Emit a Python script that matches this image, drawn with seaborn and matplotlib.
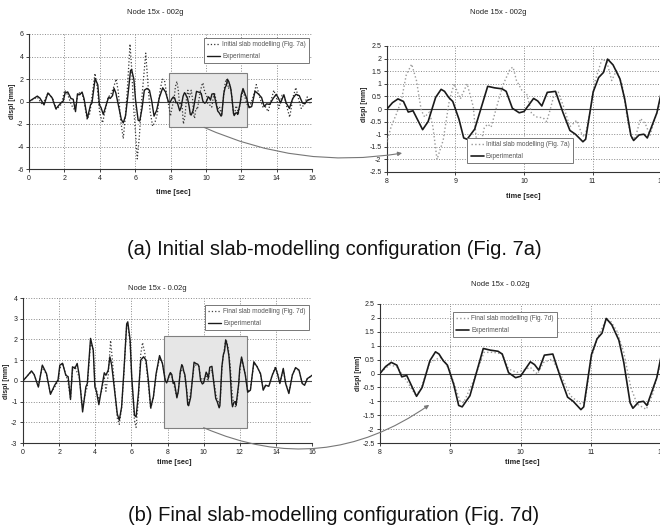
import matplotlib
matplotlib.use("Agg")
import pandas as pd
import matplotlib.pyplot as plt
import seaborn as sns
from matplotlib.patches import Rectangle, ConnectionPatch
from matplotlib.ticker import FuncFormatter, MultipleLocator

# experimental record (node 15x, 0.02g)
exp_t = [0.0, 0.25, 0.47, 0.62, 0.85, 1.07, 1.3, 1.52, 1.76, 1.94, 2.04, 2.19, 2.37, 2.5, 2.63, 2.74, 2.87, 3.0,
         3.11, 3.3, 3.48, 3.56, 3.74, 3.89, 3.98, 4.07, 4.2, 4.35, 4.5, 4.59, 4.72, 4.81, 4.91, 5.09, 5.22, 5.33,
         5.46, 5.59, 5.74, 5.8, 5.93, 6.02, 6.17, 6.26, 6.39, 6.52, 6.67, 6.81, 6.94, 7.07, 7.22, 7.37, 7.56, 7.72,
         7.87, 7.95,
         8.0, 8.08, 8.16, 8.24, 8.31, 8.38, 8.52, 8.6, 8.71, 8.79, 8.84, 8.9, 8.96, 9.05, 9.12, 9.17, 9.28, 9.38,
         9.47, 9.57, 9.68, 9.74, 9.83, 9.93, 10.0, 10.14, 10.2, 10.26, 10.34, 10.46, 10.57, 10.67, 10.75, 10.86,
         10.9, 11.01, 11.09, 11.16, 11.22, 11.3, 11.4, 11.47, 11.56, 11.6, 11.68, 11.75, 11.8, 11.87, 11.94, 12.0,
         12.1, 12.31, 12.44, 12.59, 12.78, 12.96, 13.15, 13.3, 13.43, 13.61, 13.8, 13.98, 14.11, 14.22, 14.41,
         14.54, 14.72, 14.91, 15.09, 15.28, 15.46, 15.59, 15.74, 15.89, 16.0]
exp_y = [0.0, 0.25, 0.48, 0.3, -0.3, 0.76, 0.35, -0.65, -0.2, 0.05, 0.76, 0.85, 0.27, 0.2, -0.9, 0.68, 0.6, 0.84,
         0.27, -1.5, -0.29, -0.13, 2.05, 1.48, -0.29, -0.53, -1.15, -0.37, 0.39, 0.27, 0.52, 1.16, 0.76, -0.61, -1.6,
         -1.9, -1.26, 0.52, 2.75, 2.85, 1.97, 0.19, -1.66, -1.74, -0.61, 1.0, 1.16, 1.0, 0.03, -1.3, -0.77, 0.35,
         1.22, 0.84, 0.03, -0.1,
         0.0, 0.25, 0.4, 0.3, -0.12, -0.07, -0.82, -0.5, 0.46, 0.78, 0.7, 0.46, 0.3, -0.4, -1.15, -1.2, -0.8, 0.1,
         0.9, 0.84, 0.8, 0.7, 0.03, -0.15, -0.1, 0.42, 0.32, 0.12, 0.66, 0.7, -0.15, -0.85, -1.0, -1.3,
         -1.2, 0.68, 1.25, 1.45, 1.98, 1.75, 1.2, 0.4, -1.05, -1.25, -1.03, -1.0, -1.15, -0.65, -0.15, 0.6,
         1.15, 0.27, -0.55, -0.45, 0.92, 0.68, 0.35, -0.45, -0.21, -0.26, 0.27, 0.64, 0.27, -0.13, 0.6,
         -0.13, -0.61, 0.27, 0.64, 0.52, -0.13, -0.21, 0.11, 0.19, 0.27]

# initial slab modelling (Fig. 7a)
init_t = [0.0, 0.47, 0.76, 1.08, 1.36, 1.55, 1.83, 2.02, 2.2, 2.4, 2.59, 2.78, 2.97, 3.1, 3.29, 3.44, 3.73, 3.86,
          4.0, 4.16, 4.35, 4.48, 4.61, 4.76, 4.93, 5.05, 5.18, 5.33, 5.48, 5.58, 5.71, 5.8, 5.9, 6.05, 6.12, 6.24,
          6.37, 6.5, 6.6, 6.71, 6.84, 6.99, 7.13, 7.26, 7.41, 7.54, 7.66, 7.79, 7.88,
          8.0, 8.06, 8.14, 8.21, 8.28, 8.36, 8.43, 8.5, 8.55, 8.62, 8.67, 8.73, 8.82, 8.91, 8.98, 9.07, 9.17, 9.26,
          9.3, 9.36, 9.42, 9.47, 9.52, 9.6, 9.7, 9.8, 9.84, 9.89, 9.97, 10.04, 10.11, 10.19, 10.28, 10.33, 10.38,
          10.43, 10.5, 10.58, 10.67, 10.77, 10.85, 10.89, 10.97, 11.04, 11.14, 11.21, 11.28, 11.35, 11.43, 11.52,
          11.58, 11.63, 11.7, 11.77, 11.84, 11.92, 12.0,
          12.1, 12.33, 12.48, 12.7, 12.85, 13.04, 13.23, 13.37, 13.52, 13.69, 13.84, 14.0, 14.12, 14.31, 14.44,
          14.6, 14.74, 14.93, 15.09, 15.26, 15.39, 15.58, 15.73, 15.88, 16.0]
init_y = [0.0, 0.4, -0.3, 0.77, 0.2, -0.7, -0.24, 1.0, 0.56, -0.32, -0.77, 0.7, 0.85, 0.12, -1.6, -1.06, 2.5, 1.24,
          -1.06, -1.9, -0.47, 0.41, 0.56, 1.15, 2.0, 0.86, -1.65, -3.3, -0.77, 1.6, 5.1, 3.07, -0.18, -3.4, -5.1, -3.1,
          0.12, 2.48, 4.3, 1.89, -0.77, -2.2, -1.8, -1.06, 1.0, 1.98, 1.89, 0.56, -0.18,
          -1.3, -0.7, -0.18, 0.34, 1.34, 1.78, 1.13, -0.05, -0.32, -0.12, -0.7, -2.0, -1.24, 0.34, 1.0, 0.4, 1.0, 0.08,
          -1.1, -1.5, -0.75, -0.6, -0.72, 0.08, 1.0, 1.6, 1.66, 1.13, 0.74, 0.6, -0.18, -0.32, -0.35, -0.5, -0.05,
          0.47, 0.67, 0.08, -0.7, -0.45, -1.04, -1.1, -0.05, 1.13, 2.0, 1.86, 1.13, 1.53, 1.0, -0.58,
          -1.2, -1.1, -0.38, -0.58, -1.04, -0.32, 0.34,
          0.94, -0.24, -0.47, 0.56, 1.5, 0.41, -0.53, -0.47, -0.9, 0.12, 1.0, 0.27, -0.62, 0.56, 0.41,
          -0.62, -1.4, 0.41, 1.24, 0.12, -0.62, -0.18, 0.41, -0.12, -0.18]

# final slab modelling (Fig. 7d)
final_t = [0.0, 0.25, 0.47, 0.62, 0.85, 1.07, 1.3, 1.52, 1.76, 1.94, 2.04, 2.19, 2.37, 2.5, 2.63, 2.74, 2.87, 3.0,
           3.11, 3.3, 3.48, 3.56, 3.74, 3.89, 3.98, 4.07, 4.2, 4.35, 4.5, 4.59, 4.72, 4.85, 4.95, 5.09, 5.22, 5.33,
           5.46, 5.59, 5.74, 5.8, 5.93, 6.02, 6.17, 6.26, 6.39, 6.52, 6.62, 6.75, 6.94, 7.07, 7.22, 7.37, 7.56, 7.72,
           7.87, 7.95,
           8.0, 8.14, 8.24, 8.38, 8.5, 8.57, 8.71, 8.86, 8.93, 9.0, 9.14, 9.19, 9.33, 9.48, 9.62, 9.74, 9.83, 9.95,
           10.02, 10.14, 10.24, 10.33, 10.45, 10.57, 10.71, 10.86, 10.92, 11.01, 11.1, 11.2, 11.27, 11.37, 11.47,
           11.57, 11.66, 11.79, 11.88, 11.98, 12.0,
           12.1, 12.31, 12.44, 12.59, 12.78, 12.96, 13.15, 13.3, 13.43, 13.61, 13.8, 13.98, 14.11, 14.22, 14.41,
           14.54, 14.72, 14.91, 15.09, 15.28, 15.46, 15.59, 15.74, 15.89, 16.0]
final_y = [0.0, 0.25, 0.45, 0.3, -0.28, 0.7, 0.3, -0.6, -0.3, 0.0, 0.6, 0.85, 0.3, -0.1, -0.85, 0.5, 0.7, 0.4,
           0.2, -1.3, -0.5, -0.3, 1.85, 1.5, -0.1, -0.45, -0.9, -0.5, 0.2, -0.5, 0.3, 1.95, 1.0, -0.5, -1.8, -2.1,
           -1.3, 0.4, 2.7, 2.75, 1.8, 0.1, -1.9, -2.25, -0.9, 1.3, 1.85, 1.3, -0.2, -1.35, -0.8, 0.3, 1.1, 0.85,
           0.1, 0.0,
           0.03, 0.31, 0.24, -0.27, -0.75, -0.63, 0.4, 0.58, 0.4, 0.04, -1.0, -1.05, -0.27, 0.76, 0.76, 0.7, 0.16, 0.04,
           0.1, 0.22, -0.02, 0.4, 0.52, -0.02, -0.8, -1.1, -1.0, 0.58, 1.3, 1.84, 1.93, 1.54, 0.76,
           -0.5, -1.1, -1.29, -0.75, 0.22, 0.4,
           1.1, 0.3, -0.5, -0.4, 0.85, 0.7, 0.3, -0.4, -0.25, -0.25, 0.3, 0.7, 0.3, -0.1, 0.55,
           -0.1, -0.6, 0.3, 0.6, 0.5, -0.1, -0.2, 0.1, 0.2, 0.25]

exp_df = pd.DataFrame({'time': exp_t, 'displ': exp_y})
init_df = pd.DataFrame({'time': init_t, 'displ': init_y})
final_df = pd.DataFrame({'time': final_t, 'displ': final_y})

sns.set_style("white")
plt.rcParams['font.family'] = ['Liberation Sans', 'DejaVu Sans']

W, H = 660, 526
fig = plt.figure(figsize=(6.6, 5.26), dpi=100)


def add_ax(l, r, t, b):
    return fig.add_axes([l / W, 1 - b / H, (r - l) / W, (b - t) / H])


def fmt(v, pos):
    return f"{v:g}"


def draw(ax, model_df, model_label, model_color, xlim, ylim, xstep, ystep, lw, leg_loc, leg_anchor):
    ax.set_xlim(*xlim)
    ax.set_ylim(*ylim)
    ax.xaxis.set_major_locator(MultipleLocator(xstep))
    ax.yaxis.set_major_locator(MultipleLocator(ystep))
    ax.xaxis.set_major_formatter(FuncFormatter(fmt))
    ax.yaxis.set_major_formatter(FuncFormatter(fmt))
    ax.grid(True, color='#8a8a8a', linestyle=':', linewidth=0.7)
    for s in ['top', 'right']:
        ax.spines[s].set_visible(False)
    for s in ['left', 'bottom']:
        ax.spines[s].set_color('#333333')
        ax.spines[s].set_linewidth(0.8)
    ax.axhline(0, color='#444444', lw=0.8, zorder=2)
    ax.tick_params(axis='both', labelsize=5, length=2, width=0.6, direction='out', pad=2,
                   colors='#222222', bottom=True, left=True)
    sns.lineplot(data=model_df, x='time', y='displ', ax=ax, estimator=None, sort=False,
                 color=model_color, lw=lw[0], linestyle=':', label=model_label, zorder=3)
    sns.lineplot(data=exp_df, x='time', y='displ', ax=ax, estimator=None, sort=False,
                 color='#1a1a1a', lw=lw[1], label='Experimental', zorder=4)
    ax.set_xlabel('')
    ax.set_ylabel('')
    leg = ax.legend(loc=leg_loc, bbox_to_anchor=leg_anchor, fontsize=4.7, frameon=True, fancybox=False,
                    framealpha=1, edgecolor='#777777', borderpad=0.5, handlelength=2.0,
                    labelspacing=0.7, handletextpad=0.3, borderaxespad=0)
    leg.get_frame().set_linewidth(0.7)
    for t in leg.get_texts():
        t.set_color('#555555')
    leg.set_zorder(6)


# (a) initial configuration
axA = add_ax(29, 312, 34, 169)
draw(axA, init_df, 'Initial slab modelling (Fig. 7a)', '#333333', (0, 16), (-6, 6), 2, 2,
     (0.9, 1.0), 'upper right', (0.99, 0.97))
axA.add_patch(Rectangle((7.9, -2.3), 4.45, 4.8, facecolor='#e6e6e6', edgecolor='#808080', lw=0.8, zorder=1))

axB = add_ax(387, 661, 46, 172)
draw(axB, init_df, 'Initial slab modelling (Fig. 7a)', '#999999', (8, 12), (-2.5, 2.5), 1, 0.5,
     (1.0, 1.2), 'upper left', (0.293, 0.27))

# (b) final configuration
axC = add_ax(23, 312, 298, 443)
draw(axC, final_df, 'Final slab modelling (Fig. 7d)', '#444444', (0, 16), (-3, 4), 2, 1,
     (0.9, 1.0), 'upper right', (0.99, 0.952))
axC.add_patch(Rectangle((7.8, -2.26), 4.6, 4.42, facecolor='#e6e6e6', edgecolor='#808080', lw=0.8, zorder=1))

axD = add_ax(380, 661, 304, 443)
draw(axD, final_df, 'Final slab modelling (Fig. 7d)', '#999999', (8, 12), (-2.5, 2.5), 1, 0.5,
     (1.0, 1.2), 'upper left', (0.26, 0.942))

# zoom connectors
conA = ConnectionPatch(xyA=(9.9, -2.3), coordsA=axA.transData, xyB=(8.22, -1.75), coordsB=axB.transData,
                       arrowstyle='-|>', mutation_scale=6, connectionstyle='arc3,rad=0.15',
                       color='#777777', lw=0.8, zorder=10)
fig.add_artist(conA)
conC = ConnectionPatch(xyA=(10.0, -2.26), coordsA=axC.transData, xyB=(8.7, -1.13), coordsB=axD.transData,
                       arrowstyle='-|>', mutation_scale=6, connectionstyle='arc3,rad=0.28',
                       color='#777777', lw=0.8, zorder=10)
fig.add_artist(conC)


# titles, axis labels, captions
def ftext(x, y, s, va='center', **kw):
    fig.text(x / W, 1 - y / H, s, ha='center', va=va, **kw)


ftext(155, 12, 'Node 15x - 002g', fontsize=5.5, color='#222222')
ftext(498, 13, 'Node 15x - 002g', fontsize=5.5, color='#222222')
ftext(157, 288, 'Node 15x - 0.02g', fontsize=5.5, color='#222222')
ftext(500, 285, 'Node 15x - 0.02g', fontsize=5.5, color='#222222')

ftext(173, 193, 'time [sec]', fontsize=5.3, fontweight='bold', color='#222222')
ftext(523, 196, 'time [sec]', fontsize=5.3, fontweight='bold', color='#222222')
ftext(174, 462, 'time [sec]', fontsize=5.3, fontweight='bold', color='#222222')
ftext(522, 463, 'time [sec]', fontsize=5.3, fontweight='bold', color='#222222')

ftext(12, 101, 'displ [mm]', fontsize=5, fontweight='bold', rotation=90, color='#222222')
ftext(364, 104, 'displ [mm]', fontsize=5, fontweight='bold', rotation=90, color='#222222')
ftext(7, 381, 'displ [mm]', fontsize=5, fontweight='bold', rotation=90, color='#222222')
ftext(359, 373, 'displ [mm]', fontsize=5, fontweight='bold', rotation=90, color='#222222')

ftext(334, 255, '(a) Initial slab-modelling configuration (Fig. 7a)', va='baseline', fontsize=14.5, color='#111111')
ftext(334, 521, '(b) Final slab-modelling configuration (Fig. 7d)', va='baseline', fontsize=14.5, color='#111111')

fig.savefig('out.png', dpi=100, facecolor='white')
